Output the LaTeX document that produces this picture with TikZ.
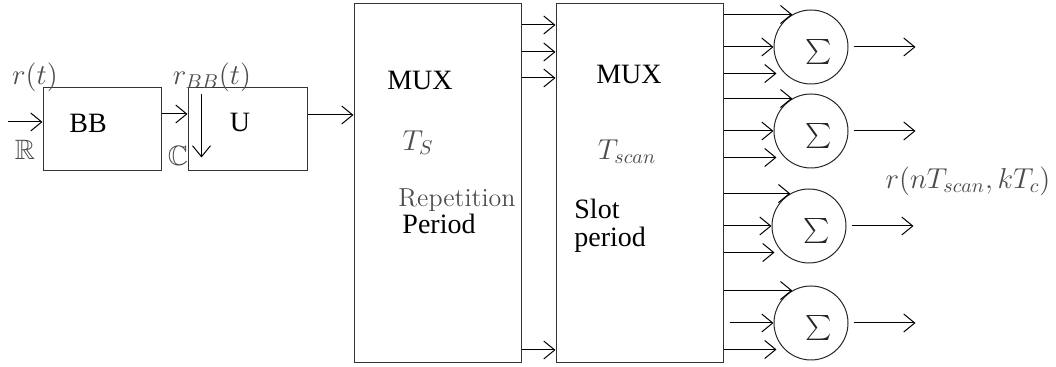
\documentclass[tikz,border=0pt]{standalone}
\usepackage{amssymb}
\usepackage{fontspec}
\newfontfamily\blockfont{Liberation Serif}
\usetikzlibrary{arrows.meta}

\tikzset{
  blk/.style={draw=black!80, line width=0.5pt, inner sep=0pt},
  sumnode/.style={draw=black!85, circle, line width=0.5pt, minimum size=37pt, inner sep=0pt},
  sig/.style={-{Straight Barb[length=5.5pt,width=9pt]}, line width=0.5pt},
  txt/.style={font=\blockfont\fontsize{14}{16}\selectfont, inner sep=0pt},
  lbl/.style={text=black!70, font=\fontsize{14}{16}\selectfont, inner sep=0pt},
}

\begin{document}
\begin{tikzpicture}[x=0.5pt, y=-0.5pt]
  \useasboundingbox (0,0) rectangle (1056,367);

  % front end
  \coordinate (in) at (8,122);
  \node[blk, minimum width=59pt, minimum height=41.5pt] (bb) at (102,129.5) {};
  \node[blk, minimum width=59.5pt, minimum height=41.5pt] (u) at (247.5,129.5) {};
  \node[txt] (bbtxt) at (88,123) {BB};
  \node[txt] (utxt) at (240,122) {U};
  \node[lbl] (rin) at (35,77) {$r(t)$};
  \node[lbl] (rset) at (25,150) {$\mathbb{R}$};
  \node[lbl] (rbb) at (212,77) {$r_{BB}(t)$};
  \node[lbl] (cset) at (178,156) {$\mathbb{C}$};

  \draw[sig] (in) -- (in -| bb.west);
  \draw[sig] (bb.east |- 0,114) -- (u.west |- 0,114);
  \draw[sig] ([xshift=7pt,yshift=-3.5pt]u.north west) -- ([xshift=7pt,yshift=7pt]u.south west);

  % the two multiplexers
  \node[blk, minimum width=83.5pt, minimum height=179.5pt] (mux1) at (437.5,183.5) {};
  \node[blk, minimum width=83.5pt, minimum height=179.5pt] (mux2) at (639.5,183.5) {};

  \node[txt] (mux1txt) at (420,80) {MUX};
  \node[lbl] (ts) at (418,143) {$T_S$};
  \node[lbl, font=\fontsize{13}{15}\selectfont] (rep) at (457,200) {Repetition};
  \node[txt] (per) at (439,224) {Period};

  \node[txt] (mux2txt) at (629,74) {MUX};
  \node[lbl] (tscan) at (627,152) {$T_{scan}$};
  \node[txt, align=left, anchor=west, font=\blockfont\fontsize{14}{14}\selectfont] (slot) at (574,226) {Slot\\period};

  \draw[sig] (u.east |- 0,115) -- (mux1.west |- 0,115);
  \foreach \y in {25,52,78,350}
    \draw[sig] (mux1.east |- 0,\y) -- (mux2.west |- 0,\y);

  % summers
  \node[sumnode] (s1) at (811,47) {};
  \node[sumnode] (s2) at (811,131) {};
  \node[sumnode] (s3) at (809,226) {};
  \node[sumnode] (s4) at (811,323) {};

  \foreach \s/\gap in {s1/0,s2/0,s3/0,s4/3} {
    \node[font=\fontsize{12.5}{14}\selectfont, text=black!85, inner sep=0pt] (\s sym) at ([xshift=4pt,yshift=-2.5pt]\s) {$\sum$};
    \draw[sig] (mux2.east |- \s.120) -- (\s.120);
    \draw[sig] ([xshift=\gap pt]mux2.east |- \s.west) -- (\s.west);
    \draw[sig] (mux2.east |- \s.225) -- ([xshift=-4pt]\s.225);
    \draw[sig] ([xshift=2.5pt]\s.east) -- ++(62,0);
  }

  \node[lbl] (rout) at (968,181) {$r(nT_{scan},kT_c)$};
\end{tikzpicture}
\end{document}
